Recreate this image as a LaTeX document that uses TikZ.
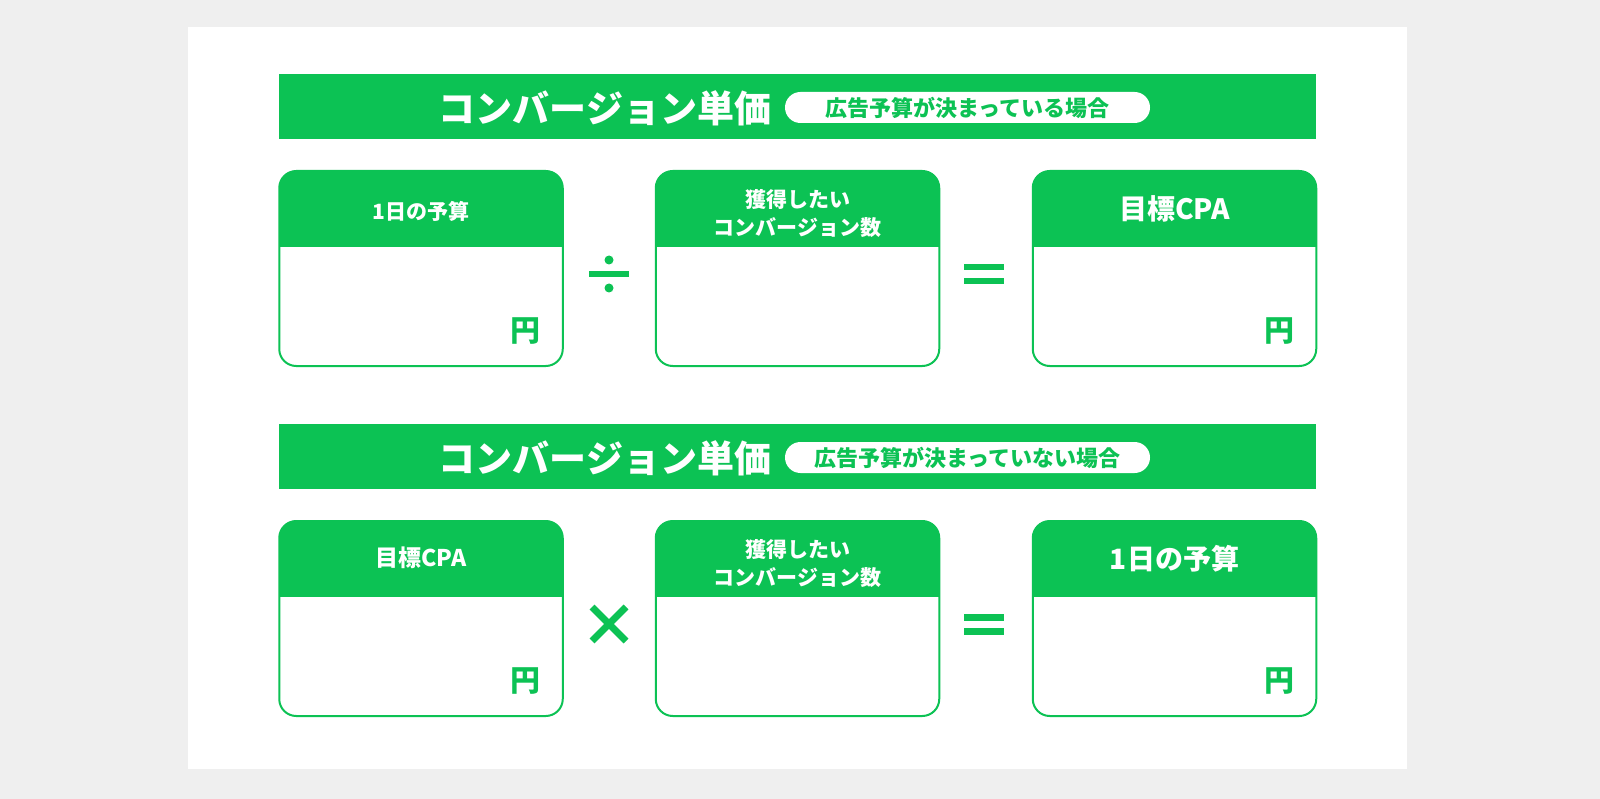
\documentclass[tikz,border=0pt]{standalone}
\usepackage{fontspec}
\setmainfont{Noto Sans CJK JP}
\definecolor{lgreen}{RGB}{12,194,84}
\definecolor{bggray}{RGB}{239,239,239}
\begin{document}
\begin{tikzpicture}[x=1pt,y=-1pt,
  bar/.style={fill=lgreen, draw=none, minimum width=1037pt, minimum height=65pt, inner sep=0pt},
  titletext/.style={text=white, inner sep=0pt, font=\fontsize{37}{40}\selectfont\bfseries},
  pill/.style={fill=white, draw=none, rounded corners=15.5pt, minimum width=365pt, minimum height=31pt, inner sep=0pt, text=lgreen, font=\fontsize{22}{24}\selectfont\bfseries},
  card/.style={draw=lgreen, line width=2pt, fill=white, rounded corners=17pt, minimum width=283.5pt, minimum height=195pt, inner sep=0pt,
    path picture={\fill[lgreen, sharp corners] (path picture bounding box.north west) rectangle ([yshift=-76pt]path picture bounding box.north east);}},
  headsmall/.style={text=white, inner sep=0pt, align=center, font=\fontsize{21}{28}\selectfont\bfseries},
  headmid/.style={text=white, inner sep=0pt, font=\fontsize{23}{25}\selectfont\bfseries},
  headlarge/.style={text=white, inner sep=0pt, font=\fontsize{28}{30}\selectfont\bfseries},
  yen/.style={text=lgreen, inner sep=0pt, font=\fontsize{30}{32}\selectfont\bfseries},
  opline/.style={draw=lgreen, line width=7pt}
]
\useasboundingbox (0,0) rectangle (1600,799);
\fill[bggray] (0,0) rectangle (1600,799);
\fill[white] (188,27) rectangle (1407,769);

% ---------- Row 1 ----------
\node[bar] (bar1) at (797.5,106.5) {};
\node[titletext] (title1) at (605,108) {コンバージョン単価};
\node[pill] (pill1) at (967.5,107.5) {広告予算が決まっている場合};

\node[card] (c11) at (421,268.5) {};
\node[card] (c12) at (797.5,268.5) {};
\node[card] (c13) at (1174.5,268.5) {};

\node[headsmall] (h11) at (421,211) {1日の予算};
\node[headsmall] (h12) at (797.5,214) {獲得したい\\コンバージョン数};
\node[headlarge] (h13) at (1174.5,209) {目標CPA};

\node[yen] (y11) at (525,331) {円};
\node[yen] (y13) at (1279,331) {円};

% divide sign
\fill[lgreen] (609,260) circle (4.5);
\fill[lgreen] (609,288) circle (4.5);
\fill[lgreen] (589,271) rectangle (629,277);
% equals sign
\fill[lgreen] (964,264) rectangle (1004,270.5);
\fill[lgreen] (964,278) rectangle (1004,284.5);

% ---------- Row 2 ----------
\node[bar] (bar2) at (797.5,456.5) {};
\node[titletext] (title2) at (605,458) {コンバージョン単価};
\node[pill] (pill2) at (967.5,457.5) {広告予算が決まっていない場合};

\node[card] (c21) at (421,618.5) {};
\node[card] (c22) at (797.5,618.5) {};
\node[card] (c23) at (1174.5,618.5) {};

\node[headmid] (h21) at (421,558) {目標CPA};
\node[headsmall] (h22) at (797.5,564) {獲得したい\\コンバージョン数};
\node[headlarge] (h23) at (1174.5,559) {1日の予算};

\node[yen] (y21) at (525,681) {円};
\node[yen] (y23) at (1279,681) {円};

% times sign
\draw[opline] (592,607) -- (626,641);
\draw[opline] (626,607) -- (592,641);
% equals sign
\fill[lgreen] (964,614) rectangle (1004,620.5);
\fill[lgreen] (964,628) rectangle (1004,634.5);
\end{tikzpicture}
\end{document}
